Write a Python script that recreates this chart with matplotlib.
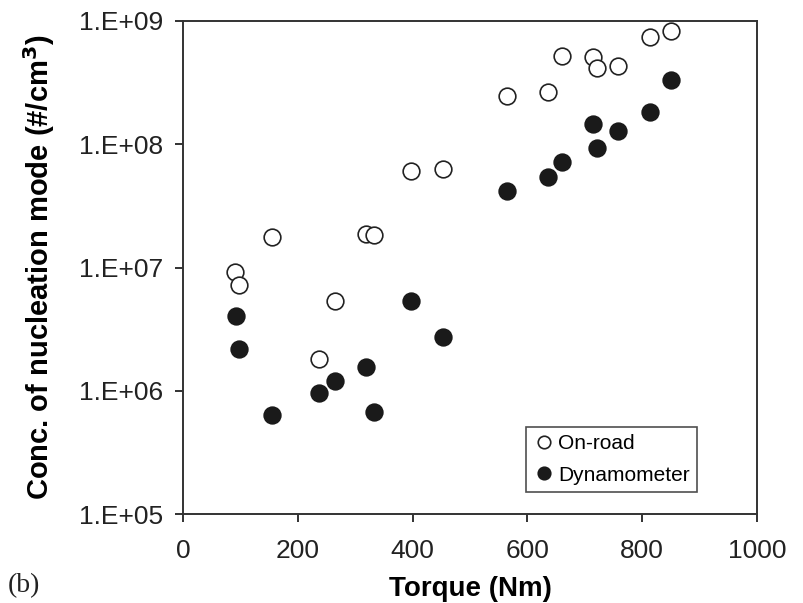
import numpy as np
import matplotlib
matplotlib.use("Agg")
import matplotlib.pyplot as plt
from matplotlib.ticker import FixedLocator, FuncFormatter, NullLocator

# On-road measurements (open circles)
onroad_torque = [91, 98, 155, 237, 265, 318, 333, 397, 453, 564, 636, 660, 715, 721, 758, 814, 850]
onroad_conc = [9.2e6, 7.2e6, 1.77e7, 1.8e6, 5.3e6, 1.87e7, 1.82e7, 6.1e7, 6.3e7,
               2.47e8, 2.67e8, 5.2e8, 5.1e8, 4.14e8, 4.3e8, 7.4e8, 8.3e8]

# Dynamometer measurements (filled circles)
dyno_torque = [92, 98, 155, 237, 265, 319, 332, 398, 453, 565, 636, 660, 715, 721, 758, 814, 850]
dyno_conc = [4.05e6, 2.19e6, 6.4e5, 9.6e5, 1.2e6, 1.56e6, 6.7e5, 5.36e6, 2.74e6,
             4.18e7, 5.4e7, 7.2e7, 1.46e8, 9.3e7, 1.28e8, 1.83e8, 3.33e8]

x_ticks = [0, 200, 400, 600, 800, 1000]
y_ticks = [1e5, 1e6, 1e7, 1e8, 1e9]

plt.rcParams['font.family'] = ['Liberation Sans', 'DejaVu Sans']

fig = plt.figure(figsize=(8.04, 6.03), dpi=100)
ax = fig.add_axes([183 / 804, 1 - 514 / 603, (757 - 183) / 804, (514 - 21) / 603])

ax.plot(onroad_torque, onroad_conc, 'o', ms=12, mfc='white', mec='#222222', mew=1.2,
        linestyle='none', label='On-road')
ax.plot(dyno_torque, dyno_conc, 'o', ms=12, mfc='#1a1a1a', mec='#1a1a1a', mew=1.2,
        linestyle='none', label='Dynamometer')

ax.set_yscale('log')
ax.set_xlim(0, 1000)
ax.set_ylim(1e5, 1e9)
ax.xaxis.set_major_locator(FixedLocator(x_ticks))
ax.yaxis.set_major_locator(FixedLocator(y_ticks))
ax.yaxis.set_minor_locator(NullLocator())
ax.yaxis.set_major_formatter(FuncFormatter(lambda v, p: '1.E+%02d' % round(np.log10(v))))

ax.tick_params(axis='both', direction='out', length=6, width=1.3, labelsize=19,
               colors='#222222')
ax.tick_params(axis='x', pad=12)
ax.tick_params(axis='y', pad=8)
for s in ax.spines.values():
    s.set_linewidth(1.4)
    s.set_color('#333333')

ax.set_xlabel('Torque (Nm)', fontsize=20, fontweight='bold', labelpad=9)
ax.set_ylabel('Conc. of nucleation mode (#/cm$^\\mathbf{3}$)', fontsize=21,
              fontweight='bold', labelpad=16)

leg = ax.legend(loc='lower right', bbox_to_anchor=(0.895, 0.045), fontsize=15,
                frameon=True, fancybox=False, edgecolor='#222222', markerscale=0.75,
                handletextpad=0.1, handlelength=1.1, borderpad=0.35, labelspacing=0.6,
                borderaxespad=0)
leg.get_frame().set_linewidth(1.2)

fig.text(8 / 804, 1 - 586 / 603, '(b)', fontsize=20, family='Liberation Serif',
         va='center', ha='left', color='#222222')

fig.savefig('out.png', dpi=100)
